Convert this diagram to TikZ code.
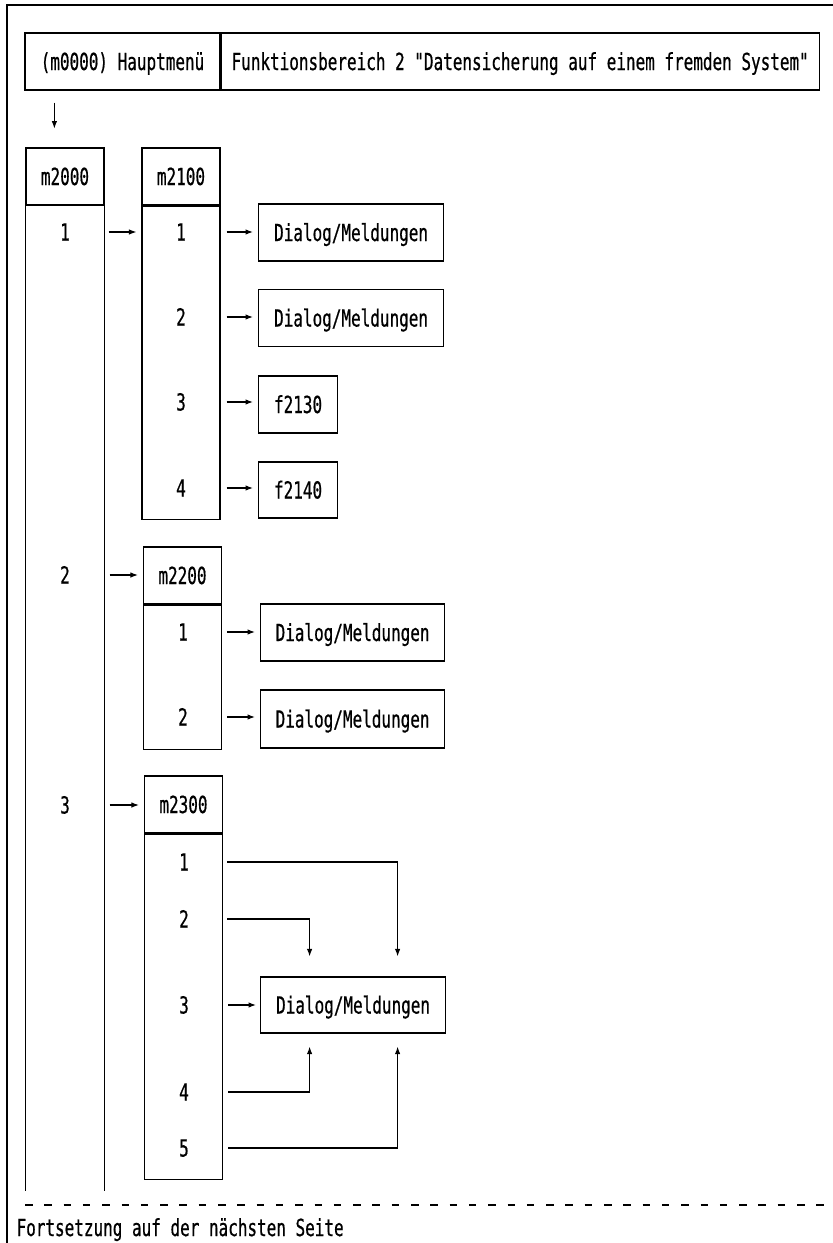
\documentclass[tikz,border=0pt]{standalone}
\usepackage{fontspec}
\newfontfamily\dinmono[FakeStretch=0.68,FakeBold=0.6]{DejaVu Sans Mono}
\usetikzlibrary{arrows.meta,calc}
\begin{document}
\begin{tikzpicture}[x=1pt,y=-1pt,line width=1.2pt,
  font=\dinmono\fontsize{23.5}{25}\selectfont,
  box/.style={draw, inner sep=0pt, text height=17pt, text depth=0pt},
  lbl/.style={inner sep=0pt, text height=17pt, text depth=0pt},
  arr/.style={-{Latex[length=7.5pt,width=5.5pt]}, line width=1.1pt},
  hdr/.style={box, minimum width=78pt, minimum height=57pt},
  dlg/.style={box, minimum width=185pt, minimum height=57pt, anchor=west},
  fbox/.style={box, minimum width=79pt, minimum height=57pt, anchor=west},
  dashline/.style={dash pattern=on 7.5pt off 11.8pt}
]
\useasboundingbox (0,0) rectangle (833,1243);
% page frame (top and left)
\draw (833,5) -- (7,5) -- (7,1250);

% header
\node[box, minimum width=195pt, minimum height=57pt] (hA) at (122.5,61.5) {(m0000) Hauptmenü};
\node[box, minimum width=598pt, minimum height=57pt, anchor=west] (hB) at (hA.east) {Funktionsbereich 2 "Datensicherung auf einem fremden System"};
\coordinate (h0) at ($(hA.south west)+(30,12)$);
\coordinate (h1) at ($(h0)+(0,26)$);
\draw[arr] (h0) -- (h1);

% m2000 column
\node[hdr] (m2000) at (65,176.5) {m2000};
\coordinate (m2000L) at ($(m2000.south west)+(0,985)$);
\coordinate (m2000R) at ($(m2000.south east)+(0,985)$);
\draw (m2000.south west) -- (m2000L);
\draw (m2000.south east) -- (m2000R);
\node[lbl] (a1) at (65,232) {1};
\node[lbl] (a2) at (65,575) {2};
\node[lbl] (a3) at (65,805) {3};

% m2100
\node[hdr] (m2100) at (181,176.5) {m2100};
\node[box, minimum width=78pt, minimum height=313pt, anchor=north] (b2100) at (m2100.south) {};
\node[lbl] (e1) at (181,232) {1};
\node[lbl] (e2) at (181,317) {2};
\node[lbl] (e3) at (181,402) {3};
\node[lbl] (e4) at (181,488) {4};
\node[dlg] (d1) at (258,232.5) {Dialog/Meldungen};
\node[dlg] (d2) at (258,318) {Dialog/Meldungen};
\node[fbox] (f2130) at (258,404.5) {f2130};
\node[fbox, minimum height=56pt] (f2140) at (258,490) {f2140};
\draw[arr] ($(m2000.east |- a1)+(4,0)$) -- ($(b2100.west |- a1)+(-5,0)$);
\draw[arr] ($(b2100.east |- e1)+(6,0)$) -- ($(d1.west |- e1)+(-5,0)$);
\draw[arr] ($(b2100.east |- e2)+(6,0)$) -- ($(d2.west |- e2)+(-5,0)$);
\draw[arr] ($(b2100.east |- e3)+(6,0)$) -- ($(f2130.west |- e3)+(-5,0)$);
\draw[arr] ($(b2100.east |- e4)+(6,0)$) -- ($(f2140.west |- e4)+(-5,0)$);

% m2200
\node[hdr] (m2200) at (182.5,575.5) {m2200};
\node[box, minimum width=78pt, minimum height=144pt, anchor=north] (b2200) at (m2200.south) {};
\node[lbl] (g1) at (183,632) {1};
\node[lbl] (g2) at (183,717) {2};
\node[dlg, minimum width=184pt] (d3) at (260,632.5) {Dialog/Meldungen};
\node[dlg, minimum width=184pt, minimum height=58pt] (d4) at (260,719) {Dialog/Meldungen};
\draw[arr] ($(m2000.east |- a2)+(5,0)$) -- ($(m2200.west |- a2)+(-5,0)$);
\draw[arr] ($(b2200.east |- g1)+(5,0)$) -- ($(d3.west |- g1)+(-5,0)$);
\draw[arr] ($(b2200.east |- g2)+(5,0)$) -- ($(d4.west |- g2)+(-5,0)$);

% m2300
\node[hdr] (m2300) at (183.5,804.5) {m2300};
\node[box, minimum width=78pt, minimum height=345pt, anchor=north] (b2300) at (m2300.south) {};
\node[lbl] (k1) at (184,862) {1};
\node[lbl] (k2) at (184,919) {2};
\node[lbl] (k3) at (184,1005) {3};
\node[lbl] (k4) at (184,1092) {4};
\node[lbl] (k5) at (184,1148) {5};
\node[dlg, minimum height=56pt] (d5) at (260,1005) {Dialog/Meldungen};
\draw[arr] ($(m2000.east |- a3)+(5,0)$) -- ($(m2300.west |- a3)+(-5,0)$);
\draw[arr] ($(b2300.east |- k1)+(4,0)$) -| ($(d5.north)+(44.5,-20)$);
\draw[arr] ($(b2300.east |- k2)+(4,0)$) -| ($(d5.north)+(-43.5,-20)$);
\draw[arr] ($(b2300.east |- k3)+(5,0)$) -- ($(d5.west |- k3)+(-4,0)$);
\draw[arr] ($(b2300.east |- k4)+(5,0)$) -| ($(d5.south)+(-43.5,13)$);
\draw[arr] ($(b2300.east |- k5)+(5,0)$) -| ($(d5.south)+(44.5,13)$);

% continuation
\draw[dashline] (25,1205) -- (833,1205);
\node[anchor=base west, inner sep=0pt] (foot) at (16,1236) {Fortsetzung auf der nächsten Seite};
\end{tikzpicture}
\end{document}
